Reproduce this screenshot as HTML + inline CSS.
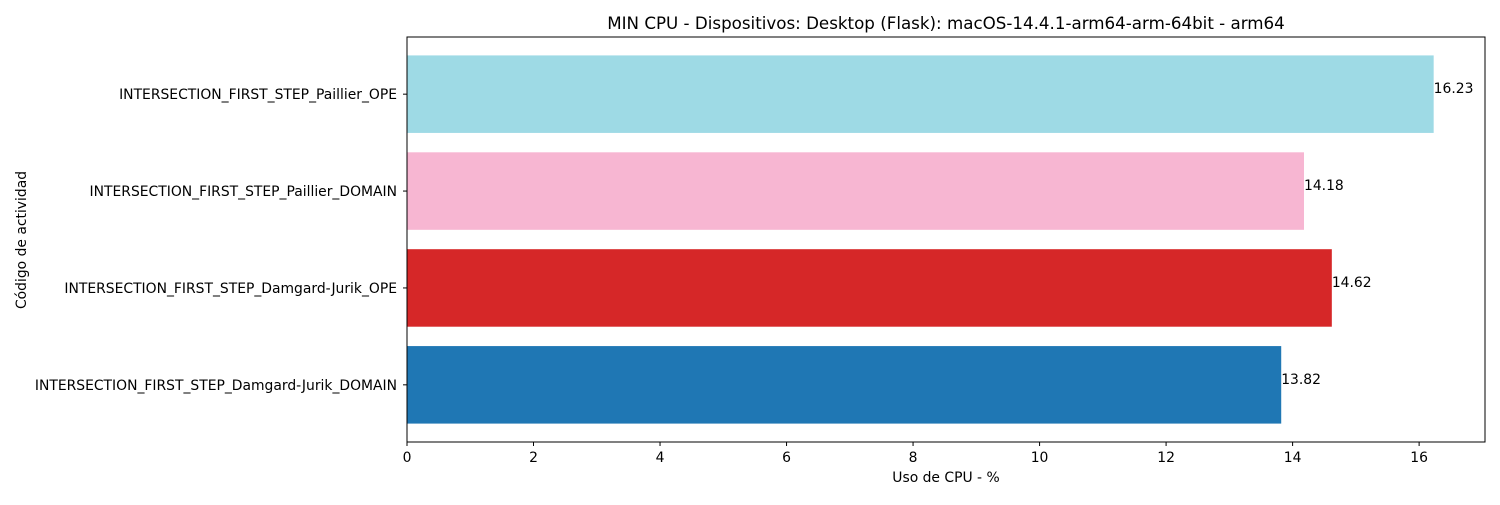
<!DOCTYPE html>
<html><head><meta charset="utf-8"><style>
body{margin:0;background:#fff;}
svg text{font-family:"DejaVu Sans","Liberation Sans",sans-serif;}
</style></head><body>
<svg id="chart" width="1500" height="500" xmlns="http://www.w3.org/2000/svg">
<rect width="1500" height="500" fill="#fff"/>
<text x="946" y="29" font-size="16.7" text-anchor="middle">MIN CPU - Dispositivos: Desktop (Flask): macOS-14.4.1-arm64-arm-64bit - arm64</text>
<g id="bars"></g>
<rect x="407" y="37" width="1078" height="405" fill="none" stroke="#000" stroke-width="1"/>
<g id="xticks"></g>
<g id="yticks"></g>
<text x="946" y="482" font-size="13.9" text-anchor="middle">Uso de CPU - %</text>
<text x="26" y="240" font-size="13.9" text-anchor="middle" transform="rotate(-90 26 240)">Código de actividad</text>
</svg>
<script>
const categories = ["INTERSECTION_FIRST_STEP_Damgard-Jurik_DOMAIN","INTERSECTION_FIRST_STEP_Damgard-Jurik_OPE","INTERSECTION_FIRST_STEP_Paillier_DOMAIN","INTERSECTION_FIRST_STEP_Paillier_OPE"];
const values = [13.82, 14.62, 14.18, 16.23];
const colors = ["#1f77b4","#d62728","#f7b6d2","#9edae5"];
const xTicks = [0,2,4,6,8,10,12,14,16];
const NS="http://www.w3.org/2000/svg";
const L=407,R=1485,T=37,B=442;
const xmax=Math.max(...values)*1.05;
const x=v=>L+v/xmax*(R-L);
const n=categories.length;
const span=(n-1)+0.8, lo=-0.4-0.05*span, hi=n-1+0.4+0.05*span;
const y=v=>B-(v-lo)/(hi-lo)*(B-T);
const bars=document.getElementById('bars');
const xt=document.getElementById('xticks');
const yt=document.getElementById('yticks');
function mk(tag,attrs,parent){const e=document.createElementNS(NS,tag);for(const k in attrs)e.setAttribute(k,attrs[k]);parent.appendChild(e);return e;}
categories.forEach((c,i)=>{
  const r=mk('rect',{x:L,y:y(i+0.4),width:x(values[i])-L,height:y(i-0.4)-y(i+0.4),fill:colors[i]},bars);
  
  
  const t=mk('text',{x:x(values[i]),y:y(i)-1,'font-size':13.9},bars);
  t.textContent=values[i].toFixed(2);
  
  
  const tk=mk('line',{x1:L-4,x2:L,y1:y(i),y2:y(i),stroke:'#000'},yt);
  
  
  const lb=mk('text',{x:L-10,y:y(i)+5,'font-size':13.9,'text-anchor':'end'},yt);
  lb.textContent=c;
  
  
});
xTicks.forEach(v=>{
  const tk=mk('line',{x1:x(v),x2:x(v),y1:B,y2:B+4,stroke:'#000'},xt);
  
  
  const lb=mk('text',{x:x(v),y:B+20,'font-size':13.9,'text-anchor':'middle'},xt);
  lb.textContent=v;
  
  
});
</script>
</body></html>
